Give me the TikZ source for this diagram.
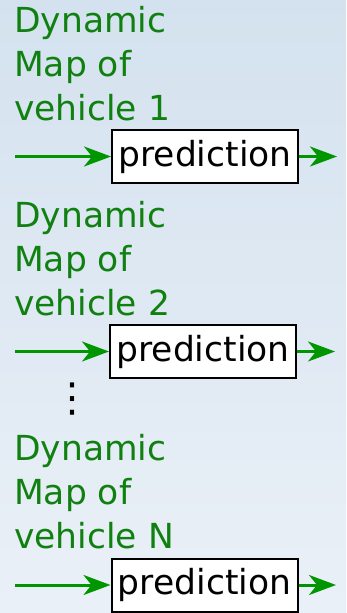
\documentclass[tikz,border=0pt]{standalone}
\usepackage{fontspec}
\setmainfont{DejaVu Sans}
\usetikzlibrary{arrows.meta}
\definecolor{txtgreen}{RGB}{16,128,16}
\definecolor{arrgreen}{RGB}{0,150,0}
\definecolor{bgtop}{RGB}{212,226,239}
\definecolor{bgbot}{RGB}{234,240,247}
\begin{document}
\begin{tikzpicture}[x=1pt,y=-1pt,
  lbl/.style={anchor=base west,inner sep=0pt,text=txtgreen,align=left,
    font=\fontsize{34.5}{44}\selectfont},
  pbox/.style={draw=black,fill=white,line width=2pt,minimum width=186pt,
    minimum height=53pt,inner sep=0pt,font=\fontsize{34.5}{40}\selectfont},
  flow/.style={draw=arrgreen,line width=3pt,
    -{Stealth[length=27pt,width=20pt,inset=8pt]}}]
\useasboundingbox (0,0) rectangle (346,613);
\shade[top color=bgtop,bottom color=bgbot] (0,0) rectangle (346,613);
% block 1
\node[lbl] (l1) at (14,120) {Dynamic\\Map of\\vehicle 1};
\node[pbox] (p1) at (205,156.5) {prediction};
\coordinate (i1) at (15,156.5);
\coordinate (o1) at (337,156.5);
\draw[flow] (i1) -- (p1.west);
\draw[flow] (p1.east) -- (o1);
% block 2
\node[lbl] (l2) at (14,315) {Dynamic\\Map of\\vehicle 2};
\node[pbox] (p2) at (203,351.5) {prediction};
\coordinate (i2) at (15,351.5);
\coordinate (o2) at (335,351.5);
\draw[flow] (i2) -- (p2.west);
\draw[flow] (p2.east) -- (o2);
% dots
\node[inner sep=0pt,font=\fontsize{40}{40}\selectfont] (dots) at (72,399) {\char"22EE};
% block 3
\node[lbl] (l3) at (14,548) {Dynamic\\Map of\\vehicle N};
\node[pbox] (p3) at (204.5,585) {prediction};
\coordinate (i3) at (15,585);
\coordinate (o3) at (336,585);
\draw[flow] (i3) -- (p3.west);
\draw[flow] (p3.east) -- (o3);
\end{tikzpicture}
\end{document}
